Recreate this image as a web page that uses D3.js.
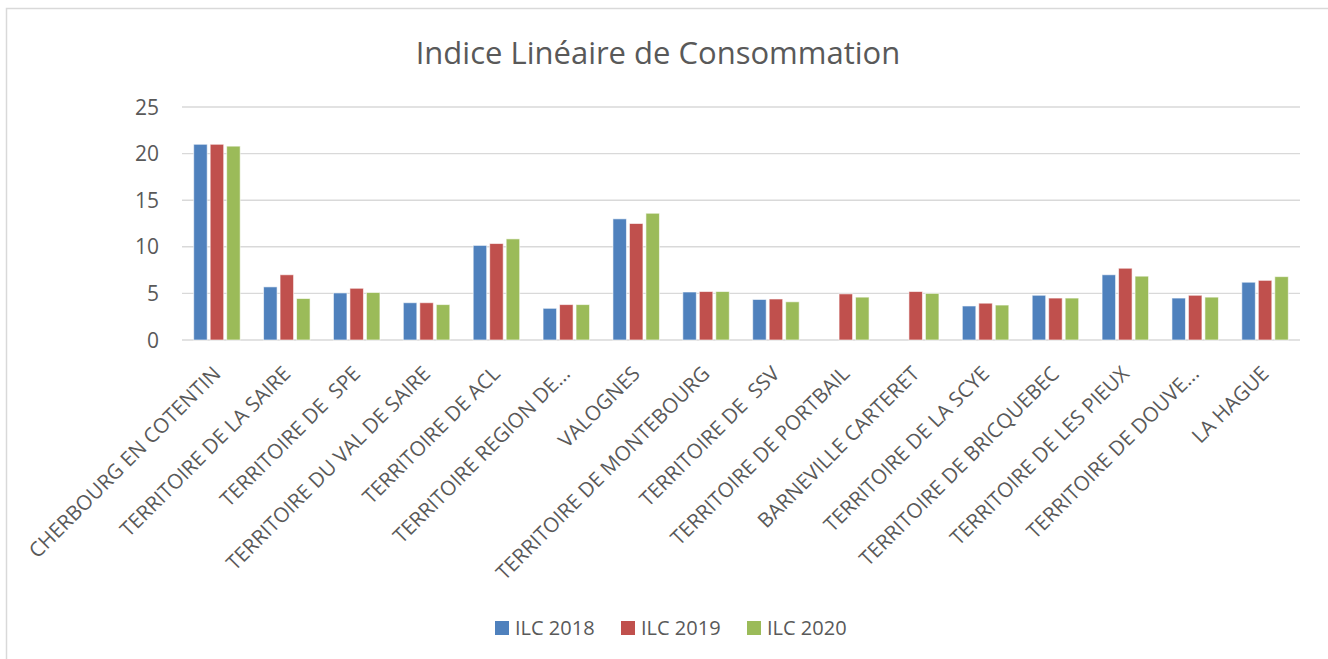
<!DOCTYPE html>
<html>
<head>
<meta charset="utf-8">
<script src="https://cdn.jsdelivr.net/npm/d3@7"></script>
<style>
  html, body { margin: 0; padding: 0; background: #fff; }
  svg { display: block; font-family: "Open Sans", sans-serif; }
</style>
</head>
<body>
<div id="chart"></div>
<script>
const categories = [
  "CHERBOURG EN COTENTIN",
  "TERRITOIRE DE LA SAIRE",
  "TERRITOIRE DE  SPE",
  "TERRITOIRE DU VAL DE SAIRE",
  "TERRITOIRE DE ACL",
  "TERRITOIRE REGION DE...",
  "VALOGNES",
  "TERRITOIRE DE MONTEBOURG",
  "TERRITOIRE DE  SSV",
  "TERRITOIRE DE PORTBAIL",
  "BARNEVILLE CARTERET",
  "TERRITOIRE DE LA SCYE",
  "TERRITOIRE DE BRICQUEBEC",
  "TERRITOIRE DE LES PIEUX",
  "TERRITOIRE DE DOUVE...",
  "LA HAGUE"
]

const seriesNames = ["ILC 2018", "ILC 2019", "ILC 2020"]
const seriesColors = ["#4F81BD", "#C0504D", "#9BBB59"]

// null = no bar drawn
const ilc2018 = [21.0, 5.7, 5.05, 4.0, 10.15, 3.4, 13.0, 5.15, 4.35, null, null, 3.65, 4.8, 7.0, 4.5, 6.2]
const ilc2019 = [21.0, 7.0, 5.55, 4.0, 10.35, 3.8, 12.5, 5.2, 4.4, 4.95, 5.2, 3.95, 4.5, 7.7, 4.8, 6.4]
const ilc2020 = [20.8, 4.45, 5.1, 3.8, 10.85, 3.8, 13.6, 5.2, 4.1, 4.6, 5.0, 3.75, 4.5, 6.85, 4.6, 6.8]

const yTicks = [0, 5, 10, 15, 20, 25]
const title = "Indice Linéaire de Consommation"

const W = 1328, H = 659
const textColor = "#595959"
const gridColor = "#D9D9D9"

const svg = d3.select("#chart").append("svg")
  .attr("width", W)
  .attr("height", H)

// chart frame (only top / left visible in the crop)
svg.append("path")
  .attr("d", `M6.5,${H} V8.5 H${W}`)
  .attr("fill", "none")
  .attr("stroke", gridColor)
  .attr("stroke-width", 1.5)

const x0 = d3.scaleBand()
  .domain(categories)
  .range([182, 1300])
  .padding(0)

const groupW = 46.5
const x1 = d3.scaleBand()
  .domain(seriesNames)
  .range([0, groupW])
  .paddingInner(0.18)
  .paddingOuter(0)

const y = d3.scaleLinear()
  .domain([0, 25])
  .range([340, 107])

// Gridlines
svg.append("g")
  .selectAll("line")
  .data(yTicks)
  .join("line")
  .attr("x1", 182).attr("x2", 1300)
  .attr("y1", d => y(d)).attr("y2", d => y(d))
  .attr("stroke", gridColor)
  .attr("stroke-width", 1.4)

// Y tick labels
svg.append("g")
  .selectAll("text")
  .data(yTicks)
  .join("text")
  .attr("x", 159)
  .attr("y", d => y(d))
  .attr("dy", "0.36em")
  .attr("text-anchor", "end")
  .attr("font-size", "21px")
  .attr("fill", textColor)
  .text(d => d)

// Bars
const seriesData = [ilc2018, ilc2019, ilc2020]
const rows = []
categories.forEach((c, i) => {
  seriesNames.forEach((s, j) => {
    const v = seriesData[j][i]
    if (v != null) rows.push({ cat: c, series: s, value: v, color: seriesColors[j] })
  })
})

const offset = (x0.bandwidth() - groupW) / 2
svg.append("g")
  .selectAll("rect")
  .data(rows)
  .join("rect")
  .attr("x", d => x0(d.cat) + offset + x1(d.series))
  .attr("y", d => y(d.value))
  .attr("width", x1.bandwidth())
  .attr("height", d => y(0) - y(d.value))
  .attr("fill", d => d.color)
  .attr("stroke", "#fff")
  .attr("stroke-opacity", 0.6)
  .attr("stroke-width", 1)

// X labels, rotated -45
svg.append("g")
  .selectAll("text")
  .data(categories)
  .join("text")
  .attr("transform", d => `translate(${x0(d) + x0.bandwidth() / 2 + 5},375) rotate(-45)`)
  .attr("text-anchor", "end")
  .attr("font-size", "20.5px")
  .attr("fill", textColor)
  .attr("xml:space", "preserve")
  .style("white-space", "pre")
  .text(d => d)

// Title
svg.append("text")
  .attr("x", 658)
  .attr("y", 64)
  .attr("text-anchor", "middle")
  .attr("font-size", "31px")
  .attr("fill", textColor)
  .text(title)

// Legend
const legendX = [495, 621, 747]
const legend = svg.append("g")
  .selectAll("g")
  .data(seriesNames)
  .join("g")
  .attr("transform", (d, i) => `translate(${legendX[i]},621)`)

legend.append("rect")
  .attr("width", 14)
  .attr("height", 14)
  .attr("fill", (d, i) => seriesColors[i])

legend.append("text")
  .attr("x", 20)
  .attr("y", 14)
  .attr("font-size", "20px")
  .attr("fill", textColor)
  .text(d => d)
</script>
</body>
</html>
